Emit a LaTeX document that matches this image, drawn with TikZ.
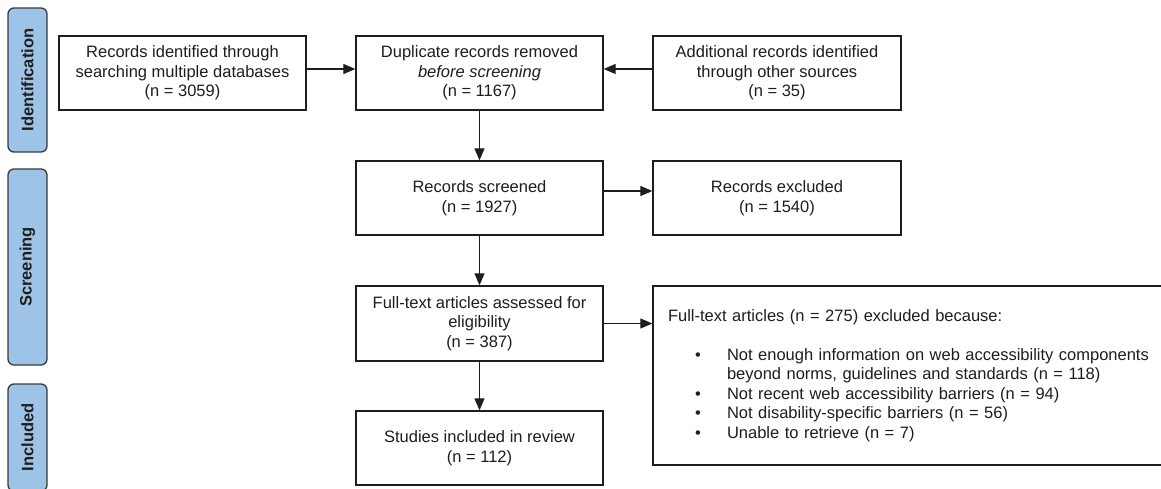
\documentclass[tikz,border=0pt]{standalone}
\usepackage{fontspec}
\setmainfont{Liberation Sans}
\usetikzlibrary{arrows.meta,positioning}
\definecolor{ink}{HTML}{1E1E1E}
\definecolor{frame}{HTML}{3A3A3A}
\definecolor{phasefill}{HTML}{9DC3E6}
\newcommand{\chartsize}{\fontsize{16.5}{19.5}\selectfont}
\newcommand{\bulletline}{\hspace*{27pt}\makebox[32pt][l]{\textbullet}}
\tikzset{
    box/.style={
        draw=ink,
        line width=1.3pt,
        fill=white,
        text=ink,
        align=center,
        minimum width=247pt,
        minimum height=74pt,
        inner sep=0pt
    },
    phase/.style={
        draw=frame,
        line width=1.3pt,
        fill=phasefill,
        rounded corners=6pt,
        rotate=90,
        font=\chartsize\bfseries,
        text=ink,
        minimum height=39pt,
        inner sep=0pt
    },
    arrow/.style={
        -{Triangle[length=12pt,width=10pt]},
        line width=1.2pt,
        color=ink
    }
}

\begin{document}
\begin{tikzpicture}[x=1pt,y=-1pt,font=\chartsize]

    \useasboundingbox (0,0) rectangle (1161,489);
    \clip (0,0) rectangle (1161,489);

    % Phases
    \node[phase, minimum width=144pt]
        (phaseid) at (27.5,80) {Identification};
    \node[phase, minimum width=196pt]
        (phasescr) at (27.5,267) {Screening};
    \node[phase, minimum width=107pt]
        (phaseinc) at (27.5,437.5) {Included};

    % Identification
    \node[box]
        (ident) at (182.5,73)
        {Records identified through\\searching multiple databases\\(n = 3059)};
    \node[box]
        (dup) at (479.5,73)
        {Duplicate records removed\\\textit{before screening}\\(n = 1167)};
    \node[box, minimum width=248pt]
        (other) at (777,73)
        {Additional records identified\\through other sources\\(n = 35)};

    % Screening
    \node[box]
        (screen) at (479.5,198)
        {Records screened\\(n = 1927)};
    \node[box, minimum width=248pt]
        (excl) at (777,198)
        {Records excluded\\(n = 1540)};
    \node[box, minimum height=75pt]
        (fulltext) at (479.5,323.5)
        {Full-text articles assessed for\\eligibility\\(n = 387)};

    % Reasons
    \node[
        box,
        minimum width=512pt,
        minimum height=179pt,
        text width=482pt,
        align=left
    ]
        (reasons) at (909,375.5)
        {Full-text articles (n = 275) excluded because:\\[19.5pt]
        \bulletline Not enough information on web accessibility components\\
        \hspace*{59pt}beyond norms, guidelines and standards (n = 118)\\
        \bulletline Not recent web accessibility barriers (n = 94)\\
        \bulletline Not disability-specific barriers (n = 56)\\
        \bulletline Unable to retrieve (n = 7)};

    % Included
    \node[box]
        (incl) at (479.5,448)
        {Studies included in review\\(n = 112)};

    % Arrows
    \draw[arrow] ([yshift=4pt]ident.east) -- ([yshift=4pt]dup.west);
    \draw[arrow] ([yshift=4pt]other.west) -- ([yshift=4pt]dup.east);
    \draw[arrow] (dup) -- (screen);
    \draw[arrow] ([yshift=7pt]screen.east) -- ([yshift=7pt]excl.west);
    \draw[arrow] (screen) -- (fulltext);
    \draw[arrow] (fulltext.east) -- (fulltext.east -| reasons.west);
    \draw[arrow] (fulltext) -- (incl);

\end{tikzpicture}
\end{document}
